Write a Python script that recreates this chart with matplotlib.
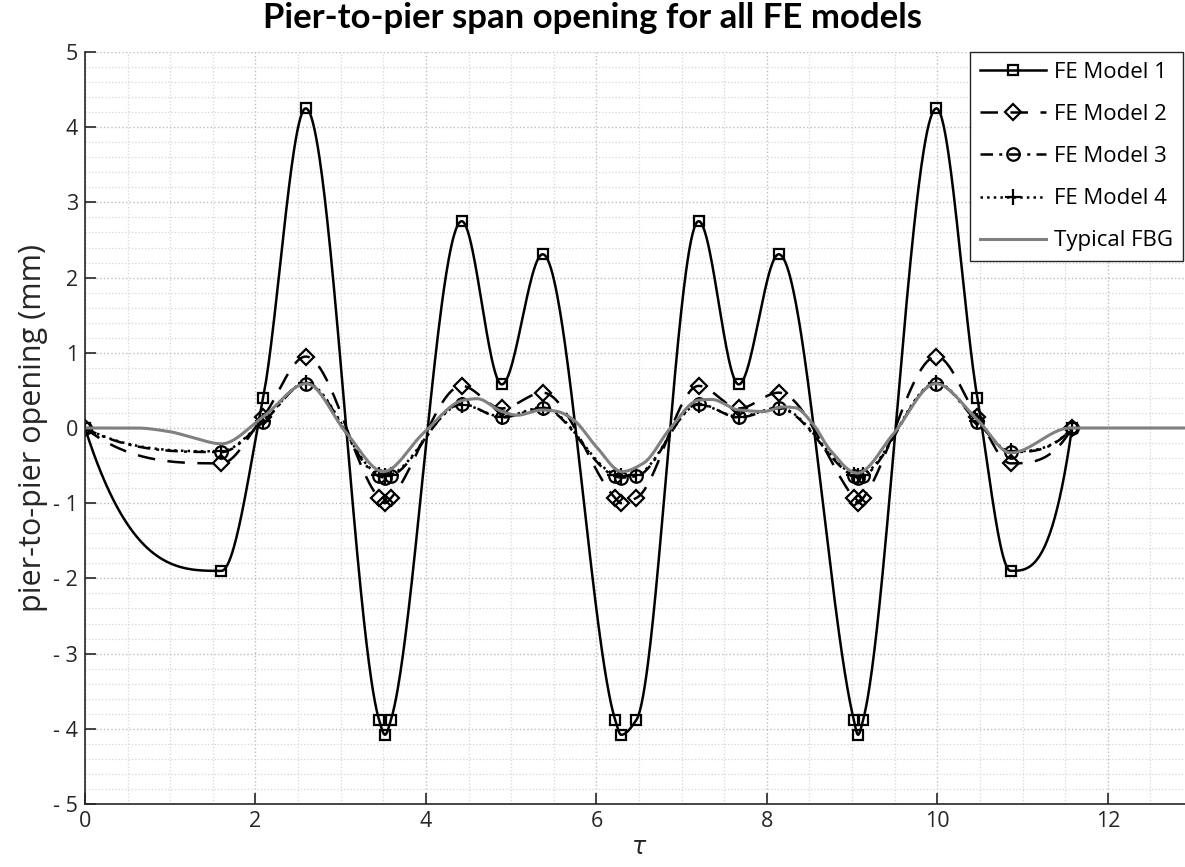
import numpy as np
import matplotlib
matplotlib.use('Agg')
import matplotlib.pyplot as plt
from matplotlib.ticker import MultipleLocator

# marker positions (tau) shared by the four FE models
tau = [0, 1.6, 2.09, 2.59, 3.45, 3.52, 3.59, 4.42, 4.89, 5.37, 6.22, 6.29, 6.47,
       7.2, 7.67, 8.14, 9.02, 9.07, 9.13, 9.99, 10.47, 10.86, 11.58]

fe_model_1 = [0, -1.9, 0.4, 4.25, -3.88, -4.08, -3.88, 2.75, 0.58, 2.31, -3.88, -4.08, -3.88,
              2.75, 0.58, 2.31, -3.88, -4.08, -3.88, 4.25, 0.4, -1.9, 0]
fe_model_2 = [0, -0.47, 0.15, 0.95, -0.93, -1.0, -0.93, 0.56, 0.26, 0.47, -0.93, -1.0, -0.93,
              0.56, 0.26, 0.47, -0.93, -1.0, -0.93, 0.95, 0.15, -0.47, 0]
fe_model_3 = [0, -0.32, 0.08, 0.59, -0.64, -0.66, -0.64, 0.32, 0.14, 0.26, -0.64, -0.66, -0.64,
              0.32, 0.14, 0.26, -0.64, -0.66, -0.64, 0.59, 0.08, -0.32, 0]
fe_model_4 = [0, -0.31, 0.09, 0.6, -0.62, -0.64, -0.62, 0.31, 0.15, 0.27, -0.62, -0.64, -0.62,
              0.31, 0.15, 0.27, -0.62, -0.64, -0.62, 0.6, 0.09, -0.31, 0]

# typical FBG trace
fbg_tau = [0, 0.6, 1.0, 1.27, 1.6, 2.09, 2.6, 3.07, 3.5, 3.97, 4.44, 4.6, 4.89, 5.07, 5.36,
           5.54, 5.73, 6.0, 6.3, 6.55, 6.87, 7.2, 7.35, 7.67, 7.96, 8.2, 8.33, 8.55, 8.74,
           9.06, 9.49, 9.98, 10.47, 10.86, 11.56, 12.0, 13.0]
fbg_val = [0, 0.0, -0.05, -0.13, -0.21, 0.15, 0.59, -0.07, -0.58, -0.07, 0.37, 0.39, 0.22,
           0.17, 0.24, 0.22, 0.11, -0.25, -0.58, -0.47, 0.0, 0.37, 0.38, 0.24, 0.22, 0.28,
           0.27, 0.04, -0.29, -0.6, -0.07, 0.59, 0.11, -0.33, 0, 0, 0]

labels = ['FE Model 1', 'FE Model 2', 'FE Model 3', 'FE Model 4', 'Typical FBG']
y_ticks = [-5, -4, -3, -2, -1, 0, 1, 2, 3, 4, 5]
y_tick_labels = ['- 5', '- 4', '- 3', '- 2', '- 1', '0', '1', '2', '3', '4', '5']
x_ticks = [0, 2, 4, 6, 8, 10, 12]


def pchip(x, y, xq):
    # shape preserving cubic, like matlab's pchip
    x = np.asarray(x, float)
    y = np.asarray(y, float)
    h = np.diff(x)
    d = np.diff(y) / h
    n = len(x)
    m = np.zeros(n)
    for k in range(1, n - 1):
        if d[k - 1] * d[k] > 0:
            w1 = 2 * h[k] + h[k - 1]
            w2 = h[k] + 2 * h[k - 1]
            m[k] = (w1 + w2) / (w1 / d[k - 1] + w2 / d[k])

    def end_slope(h0, h1, d0, d1):
        s = ((2 * h0 + h1) * d0 - h0 * d1) / (h0 + h1)
        if np.sign(s) != np.sign(d0):
            s = 0.0
        elif np.sign(d0) != np.sign(d1) and abs(s) > abs(3 * d0):
            s = 3 * d0
        return s

    m[0] = end_slope(h[0], h[1], d[0], d[1])
    m[-1] = end_slope(h[-1], h[-2], d[-1], d[-2])
    i = np.clip(np.searchsorted(x, xq) - 1, 0, n - 2)
    t = (xq - x[i]) / h[i]
    return ((2 * t**3 - 3 * t**2 + 1) * y[i] + (t**3 - 2 * t**2 + t) * h[i] * m[i]
            + (-2 * t**3 + 3 * t**2) * y[i + 1] + (t**3 - t**2) * h[i] * m[i + 1])


plt.rcParams['font.family'] = ['Open Sans', 'DejaVu Sans']

fig = plt.figure(figsize=(11.85, 8.67), dpi=100)
ax = fig.add_axes([85 / 1185, 1 - 804 / 867, 1108 / 1185, 752 / 867])

styles = [
    (fe_model_1, '-', 's', 7.5),
    (fe_model_2, (0, (7, 5)), 'D', 8),
    (fe_model_3, (0, (5, 2.5, 1.2, 2.5)), 'o', 9),
    (fe_model_4, ':', '+', 11),
]
tq = np.linspace(tau[0], tau[-1], 1200)
handles = []
for (vals, ls, mk, ms), lab in zip(styles, labels):
    ax.plot(tq, pchip(tau, vals, tq), color='black', linestyle=ls, linewidth=1.8)
    ax.plot(tau, vals, linestyle='none', marker=mk, markersize=ms, markerfacecolor='none',
            markeredgecolor='black', markeredgewidth=1.6)
    handles.append(plt.Line2D([], [], color='black', linestyle=ls, linewidth=1.8, marker=mk,
                              markersize=ms, markerfacecolor='none', markeredgewidth=1.6))

fq = np.linspace(fbg_tau[0], fbg_tau[-1], 1500)
ax.plot(fq, pchip(fbg_tau, fbg_val, fq), color='#808080', linewidth=2.2)
handles.append(plt.Line2D([], [], color='#808080', linewidth=2.2))

ax.set_xlim(0, 13)
ax.set_ylim(-5, 5)
ax.set_xticks(x_ticks)
ax.set_yticks(y_ticks)
ax.set_yticklabels(y_tick_labels)
ax.xaxis.set_minor_locator(MultipleLocator(0.5))
ax.yaxis.set_minor_locator(MultipleLocator(0.2))
ax.grid(which='major', linestyle=':', color='#bdbdbd', linewidth=1.0)
ax.grid(which='minor', linestyle=':', color='#d6d6d6', linewidth=0.9)
ax.tick_params(which='major', direction='in', length=8, width=1.2, colors='#262626',
               labelsize=15.5, pad=5)
ax.tick_params(which='minor', length=0)
for side in ['top', 'right']:
    ax.spines[side].set_visible(False)
for side in ['left', 'bottom']:
    ax.spines[side].set_color('#262626')
    ax.spines[side].set_linewidth(1.2)

ax.set_ylabel('pier-to-pier opening (mm)', fontsize=22, color='#262626', labelpad=4)
ax.set_xlabel(r'$\tau$', fontsize=17, color='#262626', labelpad=3)
fig.suptitle('Pier-to-pier span opening for all FE models', fontsize=25, fontweight='bold',
             family=['Lato', 'DejaVu Sans'], y=0.998, va='top')

leg = ax.legend(handles, labels, loc='upper right', bbox_to_anchor=(1183 / 1185, 1 - 52 / 867),
                bbox_transform=fig.transFigure, fontsize=16, labelspacing=0.95,
                handlelength=3.0, handletextpad=0.35, borderpad=0.45, borderaxespad=0,
                fancybox=False, framealpha=1, edgecolor='#262626')
leg.get_frame().set_linewidth(1.0)

fig.savefig('out.png', dpi=100)
